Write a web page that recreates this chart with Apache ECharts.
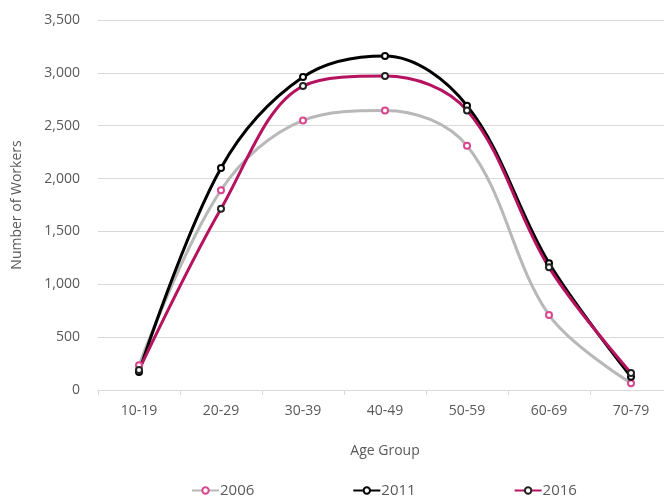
<!DOCTYPE html>
<html>
<head>
<meta charset="utf-8">
<script src="https://cdn.jsdelivr.net/npm/echarts@6/dist/echarts.min.js"></script>
<style>html,body{margin:0;padding:0;background:#fff;}#c{width:664px;height:499px;}</style>
</head>
<body>
<div id="c"></div>
<script>
var categories = ['10-19','20-29','30-39','40-49','50-59','60-69','70-79'];
var s2006 = [235, 1890, 2550, 2645, 2310, 710, 65];
var s2011 = [170, 2100, 2960, 3160, 2690, 1200, 125];
var s2016 = [190, 1715, 2875, 2970, 2645, 1160, 160];
var yTicks = [0, 500, 1000, 1500, 2000, 2500, 3000, 3500];

var font = '"Open Sans", "Noto Sans", sans-serif';
var txt = '#595959';
function mk(name, data, lineColor, markColor) {
  return {
    name: name, type: 'line', data: data, smooth: 0.35,
    symbol: 'emptyCircle', symbolSize: 6, showSymbol: true,
    lineStyle: { color: lineColor, width: 3 },
    itemStyle: { color: markColor, borderColor: markColor, borderWidth: 1.5 },
    emphasis: { disabled: true }
  };
}
var chart = echarts.init(document.getElementById('c'));
chart.setOption({
  animation: false,
  textStyle: { fontFamily: font },
  grid: { left: 98, right: -8, top: 20, bottom: 109, containLabel: false, outerBoundsMode: 'none' },
  xAxis: {
    type: 'category', data: categories, boundaryGap: true,
    name: 'Age Group', nameLocation: 'middle', nameGap: 54,
    nameTextStyle: { color: txt, fontSize: 14, fontFamily: font },
    axisLine: { lineStyle: { color: '#d9d9d9', width: 1 } },
    axisTick: { show: true, length: 5, lineStyle: { color: '#d9d9d9' } },
    axisLabel: { color: txt, fontSize: 14, margin: 14, fontFamily: font }
  },
  yAxis: {
    type: 'value', min: yTicks[0], max: yTicks[yTicks.length-1], interval: 500,
    name: 'Number of Workers', nameLocation: 'middle', nameGap: 74, nameRotate: 90,
    nameTextStyle: { color: txt, fontSize: 14, fontFamily: font },
    axisLine: { show: false }, axisTick: { show: false },
    splitLine: { lineStyle: { color: '#d9d9d9', width: 1 } },
    axisLabel: { color: txt, fontSize: 14, margin: 18, fontFamily: font,
      formatter: function (v) { return v.toLocaleString('en-US'); } }
  },
  legend: {
    data: ['2006','2011','2016'], top: 478, left: 186,
    itemWidth: 27, itemHeight: 8, itemGap: 98,
    textStyle: { color: txt, fontSize: 15, fontFamily: font, padding: [0,0,0,-4] }
  },
  series: [
    mk('2006', s2006, '#b8b8b8', '#d9468d'),
    mk('2011', s2011, '#000000', '#000000'),
    mk('2016', s2016, '#b5135f', '#222222')
  ]
});
</script>
</body>
</html>
